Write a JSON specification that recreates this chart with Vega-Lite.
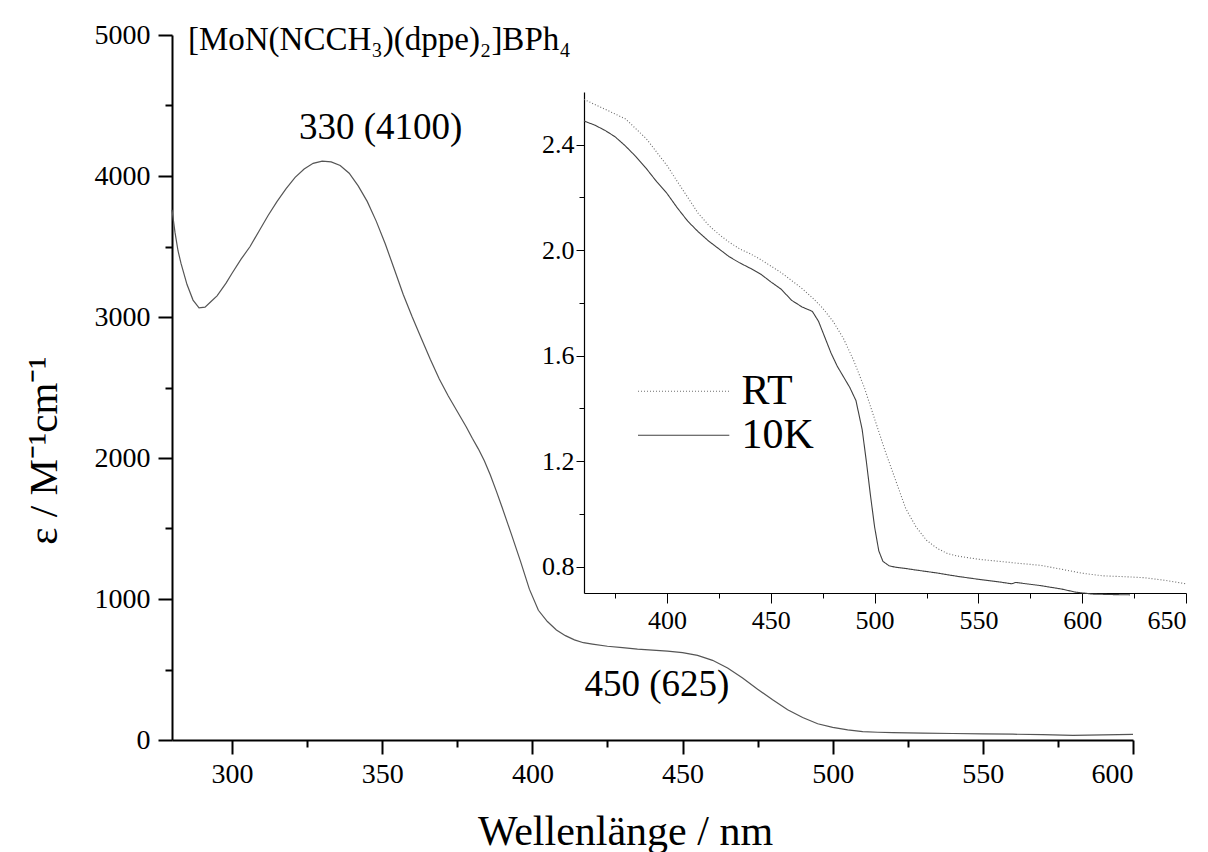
{
  "$schema": "https://vega.github.io/schema/vega-lite/v6.json",
  "autosize": {"type": "none"},
  "width": 961,
  "height": 705,
  "padding": {"left": 172, "top": 35, "right": 75, "bottom": 112},
  "background": "white",
  "config": {
    "view": {"stroke": null},
    "font": "Liberation Serif",
    "style": {"guide-label": {"font": "Liberation Serif"}, "guide-title": {"font": "Liberation Serif"}},
    "axis": {"grid": false, "labelFont": "Liberation Serif", "titleFont": "Liberation Serif", "labelColor": "black", "titleColor": "black", "domainColor": "black", "tickColor": "black", "titleFontWeight": "normal"}
  },
  "layer": [
    {
      "data": {"values": [
        {"wl": 280, "eps": 3760}, {"wl": 281, "eps": 3600}, {"wl": 282, "eps": 3470}, {"wl": 283, "eps": 3380},
        {"wl": 285, "eps": 3230}, {"wl": 287, "eps": 3120}, {"wl": 289, "eps": 3065}, {"wl": 291, "eps": 3070},
        {"wl": 293, "eps": 3110}, {"wl": 295, "eps": 3150}, {"wl": 298, "eps": 3240}, {"wl": 300, "eps": 3310},
        {"wl": 303, "eps": 3410}, {"wl": 306, "eps": 3500}, {"wl": 309, "eps": 3610}, {"wl": 312, "eps": 3720},
        {"wl": 315, "eps": 3820}, {"wl": 318, "eps": 3910}, {"wl": 321, "eps": 3990}, {"wl": 324, "eps": 4050},
        {"wl": 327, "eps": 4090}, {"wl": 330, "eps": 4105}, {"wl": 333, "eps": 4100}, {"wl": 336, "eps": 4075},
        {"wl": 339, "eps": 4020}, {"wl": 342, "eps": 3930}, {"wl": 345, "eps": 3820}, {"wl": 348, "eps": 3680},
        {"wl": 351, "eps": 3520}, {"wl": 354, "eps": 3340}, {"wl": 357, "eps": 3160}, {"wl": 360, "eps": 3000},
        {"wl": 363, "eps": 2850}, {"wl": 366, "eps": 2700}, {"wl": 369, "eps": 2560}, {"wl": 372, "eps": 2440},
        {"wl": 375, "eps": 2330}, {"wl": 378, "eps": 2220}, {"wl": 380, "eps": 2140}, {"wl": 382, "eps": 2065},
        {"wl": 384, "eps": 1980}, {"wl": 386, "eps": 1880}, {"wl": 388, "eps": 1765}, {"wl": 390, "eps": 1645},
        {"wl": 393, "eps": 1460}, {"wl": 396, "eps": 1270},
        {"wl": 399, "eps": 1070}, {"wl": 402, "eps": 920}, {"wl": 405, "eps": 840}, {"wl": 408, "eps": 780},
        {"wl": 411, "eps": 740}, {"wl": 414, "eps": 710}, {"wl": 417, "eps": 690}, {"wl": 420, "eps": 680},
        {"wl": 425, "eps": 665}, {"wl": 430, "eps": 655}, {"wl": 435, "eps": 645}, {"wl": 440, "eps": 638},
        {"wl": 445, "eps": 630}, {"wl": 450, "eps": 620}, {"wl": 455, "eps": 600}, {"wl": 460, "eps": 565},
        {"wl": 465, "eps": 510}, {"wl": 470, "eps": 440}, {"wl": 475, "eps": 360}, {"wl": 480, "eps": 285},
        {"wl": 485, "eps": 215}, {"wl": 490, "eps": 160}, {"wl": 495, "eps": 115}, {"wl": 500, "eps": 90},
        {"wl": 505, "eps": 72}, {"wl": 510, "eps": 60}, {"wl": 515, "eps": 55}, {"wl": 520, "eps": 52},
        {"wl": 530, "eps": 49}, {"wl": 540, "eps": 46}, {"wl": 550, "eps": 44}, {"wl": 560, "eps": 41},
        {"wl": 570, "eps": 38}, {"wl": 580, "eps": 33}, {"wl": 590, "eps": 36}, {"wl": 600, "eps": 40}
      ]},
      "layer": [
        {
          "mark": {"type": "line", "color": "#555555", "strokeWidth": 1.2},
          "encoding": {
            "x": {"field": "wl", "type": "quantitative",
              "scale": {"domain": [280, 600], "nice": false, "zero": false},
              "axis": {"orient": "bottom", "title": "Wellenlänge / nm", "values": [300, 325, 350, 375, 400, 425, 450, 475, 500, 525, 550, 575, 600],
                "labelExpr": "datum.value % 50 === 0 ? datum.label : ''",
                "tickSize": {"condition": {"test": "datum.value % 50 === 0", "value": 14}, "value": 7},
                "tickWidth": 2, "domainWidth": 2, "labelFont": "Liberation Serif", "labelFontSize": 28, "labelPadding": 6,
                "titleFont": "Liberation Serif", "titleFontSize": 42, "titleX": 453, "titleY": 104, "titleBaseline": "alphabetic"}},
            "y": {"field": "eps", "type": "quantitative",
              "scale": {"domain": [0, 5000], "nice": false},
              "axis": {"orient": "left", "title": "ε / M⁻¹cm⁻¹", "values": [0, 500, 1000, 1500, 2000, 2500, 3000, 3500, 4000, 4500, 5000],
                "labelExpr": "datum.value % 1000 === 0 ? datum.label : ''", "format": "d",
                "tickSize": {"condition": {"test": "datum.value % 1000 === 0", "value": 14}, "value": 7},
                "tickWidth": 2, "domainWidth": 2, "labelFont": "Liberation Serif", "labelFontSize": 28, "labelPadding": 8,
                "titleFont": "Liberation Serif", "titleFontSize": 41, "titleX": -128, "titleY": 415, "titleAngle": -90, "titleBaseline": "middle", "titleAlign": "center"}}
          }
        },
        {
          "data": {"values": [{}]},
          "mark": {"type": "text", "font": "Liberation Serif", "fontSize": 33, "align": "left", "baseline": "alphabetic", "color": "black"},
          "encoding": {"x": {"datum": 285.3}, "y": {"datum": 4894}, "text": {"value": "[MoN(NCCH₃)(dppe)₂]BPh₄"}}
        },
        {
          "data": {"values": [{}]},
          "mark": {"type": "text", "font": "Liberation Serif", "fontSize": 37, "align": "center", "baseline": "alphabetic", "color": "black"},
          "encoding": {"x": {"datum": 349.5}, "y": {"datum": 4265}, "text": {"value": "330 (4100)"}}
        },
        {
          "data": {"values": [{}]},
          "mark": {"type": "text", "font": "Liberation Serif", "fontSize": 37, "align": "center", "baseline": "alphabetic", "color": "black"},
          "encoding": {"x": {"datum": 441.5}, "y": {"datum": 315}, "text": {"value": "450 (625)"}}
        }
      ]
    },
    {
      "data": {"values": [
        {"wl": 360, "a": 2.49, "series": "10K"}, {"wl": 365, "a": 2.475, "series": "10K"}, {"wl": 370, "a": 2.455, "series": "10K"},
        {"wl": 375, "a": 2.43, "series": "10K"}, {"wl": 380, "a": 2.395, "series": "10K"}, {"wl": 385, "a": 2.355, "series": "10K"},
        {"wl": 390, "a": 2.31, "series": "10K"}, {"wl": 395, "a": 2.26, "series": "10K"}, {"wl": 400, "a": 2.215, "series": "10K"},
        {"wl": 405, "a": 2.16, "series": "10K"}, {"wl": 410, "a": 2.11, "series": "10K"}, {"wl": 415, "a": 2.07, "series": "10K"},
        {"wl": 420, "a": 2.035, "series": "10K"}, {"wl": 425, "a": 2.005, "series": "10K"}, {"wl": 430, "a": 1.975, "series": "10K"},
        {"wl": 435, "a": 1.952, "series": "10K"}, {"wl": 440, "a": 1.932, "series": "10K"}, {"wl": 445, "a": 1.91, "series": "10K"},
        {"wl": 450, "a": 1.88, "series": "10K"}, {"wl": 455, "a": 1.852, "series": "10K"}, {"wl": 460, "a": 1.81, "series": "10K"},
        {"wl": 465, "a": 1.785, "series": "10K"}, {"wl": 470, "a": 1.768, "series": "10K"}, {"wl": 473, "a": 1.73, "series": "10K"},
        {"wl": 476, "a": 1.67, "series": "10K"}, {"wl": 479, "a": 1.61, "series": "10K"}, {"wl": 482, "a": 1.56, "series": "10K"},
        {"wl": 485, "a": 1.52, "series": "10K"}, {"wl": 488, "a": 1.48, "series": "10K"}, {"wl": 491, "a": 1.43, "series": "10K"},
        {"wl": 494, "a": 1.32, "series": "10K"}, {"wl": 496, "a": 1.2, "series": "10K"}, {"wl": 498, "a": 1.07, "series": "10K"},
        {"wl": 500, "a": 0.95, "series": "10K"}, {"wl": 502, "a": 0.86, "series": "10K"}, {"wl": 504, "a": 0.82, "series": "10K"},
        {"wl": 507, "a": 0.803, "series": "10K"}, {"wl": 510, "a": 0.798, "series": "10K"}, {"wl": 515, "a": 0.793, "series": "10K"},
        {"wl": 520, "a": 0.787, "series": "10K"}, {"wl": 530, "a": 0.776, "series": "10K"}, {"wl": 540, "a": 0.763, "series": "10K"},
        {"wl": 550, "a": 0.752, "series": "10K"}, {"wl": 560, "a": 0.742, "series": "10K"}, {"wl": 566, "a": 0.735, "series": "10K"},
        {"wl": 568, "a": 0.74, "series": "10K"}, {"wl": 570, "a": 0.738, "series": "10K"}, {"wl": 580, "a": 0.728, "series": "10K"},
        {"wl": 590, "a": 0.715, "series": "10K"}, {"wl": 597, "a": 0.703, "series": "10K"}, {"wl": 605, "a": 0.696, "series": "10K"},
        {"wl": 615, "a": 0.694, "series": "10K"}, {"wl": 623, "a": 0.693, "series": "10K"},
        {"wl": 360, "a": 2.572, "series": "RT"}, {"wl": 370, "a": 2.535, "series": "RT"}, {"wl": 380, "a": 2.498, "series": "RT"},
        {"wl": 390, "a": 2.423, "series": "RT"}, {"wl": 400, "a": 2.321, "series": "RT"}, {"wl": 405, "a": 2.26, "series": "RT"},
        {"wl": 410, "a": 2.2, "series": "RT"}, {"wl": 415, "a": 2.14, "series": "RT"}, {"wl": 420, "a": 2.095, "series": "RT"},
        {"wl": 425, "a": 2.06, "series": "RT"}, {"wl": 430, "a": 2.03, "series": "RT"}, {"wl": 435, "a": 2.005, "series": "RT"},
        {"wl": 440, "a": 1.987, "series": "RT"}, {"wl": 445, "a": 1.965, "series": "RT"}, {"wl": 450, "a": 1.94, "series": "RT"},
        {"wl": 455, "a": 1.915, "series": "RT"}, {"wl": 460, "a": 1.885, "series": "RT"}, {"wl": 465, "a": 1.855, "series": "RT"},
        {"wl": 470, "a": 1.82, "series": "RT"}, {"wl": 475, "a": 1.78, "series": "RT"}, {"wl": 480, "a": 1.73, "series": "RT"},
        {"wl": 485, "a": 1.665, "series": "RT"}, {"wl": 490, "a": 1.58, "series": "RT"}, {"wl": 495, "a": 1.48, "series": "RT"},
        {"wl": 500, "a": 1.36, "series": "RT"}, {"wl": 505, "a": 1.24, "series": "RT"}, {"wl": 510, "a": 1.13, "series": "RT"},
        {"wl": 515, "a": 1.02, "series": "RT"}, {"wl": 520, "a": 0.95, "series": "RT"}, {"wl": 525, "a": 0.9, "series": "RT"},
        {"wl": 530, "a": 0.87, "series": "RT"}, {"wl": 535, "a": 0.85, "series": "RT"}, {"wl": 540, "a": 0.84, "series": "RT"},
        {"wl": 550, "a": 0.828, "series": "RT"}, {"wl": 560, "a": 0.82, "series": "RT"}, {"wl": 570, "a": 0.812, "series": "RT"},
        {"wl": 580, "a": 0.805, "series": "RT"}, {"wl": 590, "a": 0.79, "series": "RT"}, {"wl": 600, "a": 0.775, "series": "RT"},
        {"wl": 610, "a": 0.765, "series": "RT"}, {"wl": 620, "a": 0.762, "series": "RT"}, {"wl": 630, "a": 0.758, "series": "RT"},
        {"wl": 640, "a": 0.748, "series": "RT"}, {"wl": 650, "a": 0.735, "series": "RT"}
      ]},
      "layer": [
        {
          "mark": {"type": "line", "strokeWidth": 1.1},
          "encoding": {
            "x": {"field": "wl", "type": "quantitative",
              "scale": {"domain": [360, 650], "nice": false, "zero": false, "range": [412, 1014]},
              "axis": {"orient": "bottom", "offset": -147, "title": null, "values": [375, 400, 425, 450, 475, 500, 525, 550, 575, 600, 625, 650],
                "labelExpr": "datum.value % 50 === 0 ? datum.label : ''",
                "tickSize": {"condition": {"test": "datum.value % 50 === 0", "value": 10}, "value": 5},
                "tickWidth": 1, "domainWidth": 1.2, "labelFont": "Liberation Serif", "labelFontSize": 26, "labelPadding": 4}},
            "y": {"field": "a", "type": "quantitative",
              "scale": {"domain": [0.7, 2.6], "nice": false, "zero": false, "range": [558, 57]},
              "axis": {"orient": "left", "offset": -412, "title": null, "values": [0.8, 1.0, 1.2, 1.4, 1.6, 1.8, 2.0, 2.2, 2.4],
                "format": ".1f", "labelExpr": "round(datum.value * 10) % 4 === 0 ? datum.label : ''",
                "tickSize": {"condition": {"test": "round(datum.value * 10) % 4 === 0", "value": 8}, "value": 5},
                "tickWidth": 1, "domainWidth": 1.2, "labelFont": "Liberation Serif", "labelFontSize": 26, "labelPadding": 2}},
            "detail": {"field": "series"},
            "color": {"field": "series", "type": "nominal", "scale": {"domain": ["RT", "10K"], "range": ["#6a6a6a", "#404040"]}, "legend": null},
            "strokeDash": {"field": "series", "type": "nominal", "scale": {"domain": ["RT", "10K"], "range": [[1, 2], [1, 0]]}, "legend": null}
          }
        },
        {
          "data": {"values": [{}]},
          "mark": {"type": "rule", "strokeDash": [1, 2], "color": "#6a6a6a", "strokeWidth": 1.1},
          "encoding": {"x": {"datum": 386}, "x2": {"datum": 430}, "y": {"datum": 1.465}}
        },
        {
          "data": {"values": [{}]},
          "mark": {"type": "rule", "color": "#404040", "strokeWidth": 1.1},
          "encoding": {"x": {"datum": 386}, "x2": {"datum": 430}, "y": {"datum": 1.298}}
        },
        {
          "data": {"values": [{}]},
          "mark": {"type": "text", "font": "Liberation Serif", "fontSize": 42, "align": "left", "baseline": "middle", "color": "black", "dx": 4},
          "encoding": {"x": {"datum": 434}, "y": {"datum": 1.465}, "text": {"value": "RT"}}
        },
        {
          "data": {"values": [{}]},
          "mark": {"type": "text", "font": "Liberation Serif", "fontSize": 42, "align": "left", "baseline": "middle", "color": "black", "dx": 4},
          "encoding": {"x": {"datum": 434}, "y": {"datum": 1.298}, "text": {"value": "10K"}}
        }
      ]
    }
  ],
  "resolve": {"scale": {"x": "independent", "y": "independent", "color": "independent", "strokeDash": "independent"}, "axis": {"x": "independent", "y": "independent"}}
}
